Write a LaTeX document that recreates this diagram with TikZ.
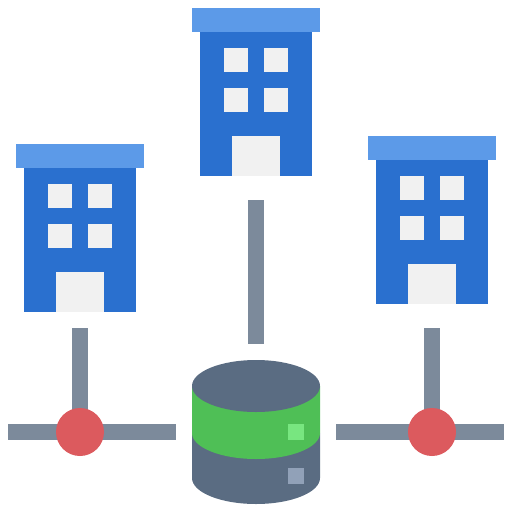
\documentclass[tikz,border=0pt]{standalone}
\usetikzlibrary{positioning,shapes.geometric,backgrounds}
\definecolor{wallblue}{HTML}{2A70CF}
\definecolor{roofblue}{HTML}{5C9AE8}
\definecolor{panewhite}{HTML}{F1F1F1}
\definecolor{linkgrey}{HTML}{7C8A9B}
\definecolor{dbslate}{HTML}{5A6C82}
\definecolor{dbgreen}{HTML}{4FBF56}
\definecolor{ledgreen}{HTML}{78E680}
\definecolor{ledgrey}{HTML}{91A1B8}
\definecolor{hubred}{HTML}{DC5A5E}
\tikzset{
	block/.style={rectangle,inner sep=0pt,outer sep=0pt,minimum width=#1},
	pane/.style={block=24pt,minimum height=24pt,fill=panewhite},
	led/.style={block=16pt,minimum height=16pt,fill=#1},
	hub/.style={circle,inner sep=0pt,outer sep=0pt,minimum size=48pt,fill=hubred},
	link/.style={draw=linkgrey,line width=16pt},
	building/.pic={
		\node[block=112pt,minimum height=144pt,fill=wallblue] (-wall) at (0,96) {};
		\node[block=128pt,minimum height=24pt,fill=roofblue] (-roof) at (0,12) {};
		\foreach \px/\py/\pname in {-20/52/a,20/52/b,-20/92/c,20/92/d}
			\node[pane] (-pane\pname) at (\px,\py) {};
		\node[block=48pt,minimum height=40pt,fill=panewhite] (-door) at (0,148) {};
	}
}
\begin{document}
\begin{tikzpicture}[x=1pt,y=-1pt]
	\useasboundingbox (0,0) rectangle (512,512);
	\pic (north) at (256,8) {building};
	\pic (west) at (80,144) {building};
	\pic (east) at (432,136) {building};
	% links with free ends
	\coordinate (northTop) at (256,200);
	\coordinate (northEnd) at (256,344);
	\coordinate (westTop) at (80,328);
	\coordinate (westLeft) at (8,432);
	\coordinate (westRight) at (176,432);
	\coordinate (eastTop) at (432,328);
	\coordinate (eastLeft) at (336,432);
	\coordinate (eastRight) at (504,432);
	\node[hub] (westHub) at (80,432) {};
	\node[hub] (eastHub) at (432,432) {};
	\draw[link] (northTop) -- (northEnd);
	\begin{scope}[on background layer]
		\draw[link] (westTop) -- (westHub.center);
		\draw[link] (westLeft) -- (westRight);
		\draw[link] (eastTop) -- (eastHub.center);
		\draw[link] (eastLeft) -- (eastRight);
	\end{scope}
	% database
	\fill[dbslate] (192,433) -- (192,478) arc[start angle=180,end angle=360,x radius=64pt,y radius=26pt] -- (320,433) -- cycle;
	\fill[dbgreen] (192,386) -- (192,433) arc[start angle=180,end angle=360,x radius=64pt,y radius=26pt] -- (320,386) -- cycle;
	\node[ellipse,inner sep=0pt,outer sep=0pt,minimum width=128pt,minimum height=52pt,fill=dbslate] (dbTop) at (256,386) {};
	\node[led=ledgreen] (dbLedA) at (296,432) {};
	\node[led=ledgrey] (dbLedB) at (296,476) {};
\end{tikzpicture}
\end{document}
